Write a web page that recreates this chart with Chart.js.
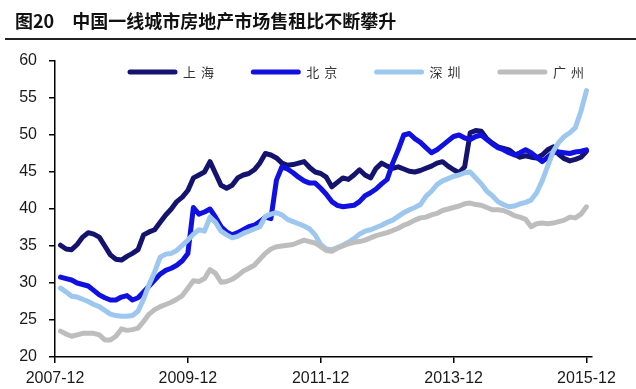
<!DOCTYPE html>
<html>
<head>
<meta charset="utf-8">
<script src="https://cdn.jsdelivr.net/npm/chart.js@4.4.1/dist/chart.umd.min.js"></script>
<style>
  body { margin: 0; background: #fff; }
  #title {
    position: absolute; left: 5px; top: 0; width: 631px; height: 40px;
    border-bottom: 2px solid #222; z-index: 2;
    font-family: "Noto Sans CJK SC", sans-serif; font-weight: bold; font-size: 18px;
    color: #111; line-height: 40px; padding-left: 10px; box-sizing: border-box;
  }
  #title span { margin-right: 18px; }
  #wrap { position: absolute; left: 0; top: 0; width: 636px; height: 389px; }
</style>
</head>
<body>
<div id="title"><span>图20</span>中国一线城市房地产市场售租比不断攀升</div>
<div id="wrap"><canvas id="myChart"></canvas></div>
<script>
// monthly values, 2008-01 .. 2015-12
let cities = ['上海', '北京', '深圳', '广州'];
let xTickLabels = ['2007-12', '2009-12', '2011-12', '2013-12', '2015-12'];
let tickMonths = [0, 24, 48, 72, 96];   // months after 2007-12

let shanghai = [35.1, 34.6, 34.5, 35.2, 36.2, 36.8, 36.6, 36.2, 35.0, 33.8, 33.2, 33.1,
  33.6, 34.0, 34.5, 36.5, 36.9, 37.2, 38.2, 39.2, 40.0, 41.0, 41.6, 42.5,
  44.2, 44.6, 45.0, 46.4, 44.8, 43.2, 42.8, 43.2, 44.2, 44.6, 44.8, 45.3,
  46.2, 47.5, 47.3, 46.9, 46.2, 45.9, 46.0, 46.2, 46.4, 45.6, 45.0, 44.8,
  44.3, 43.0, 43.6, 44.2, 44.0, 44.6, 45.3, 44.6, 44.2, 45.5, 46.2, 45.8,
  45.5, 45.7, 45.4, 45.1, 45.0, 45.2, 45.5, 45.8, 46.2, 46.4, 45.8, 45.3,
  44.9, 45.7, 50.3, 50.6, 50.5, 49.5, 48.9, 48.4, 48.2, 48.0, 47.4, 47.0,
  47.2, 47.0, 46.9, 47.3, 48.0, 48.4, 47.4, 46.8, 46.5, 46.7, 47.0, 47.8];

let beijing = [30.8, 30.6, 30.4, 30.0, 29.8, 29.6, 29.0, 28.4, 28.0, 27.7, 27.7, 28.1,
  28.3, 27.7, 28.0, 28.8, 29.6, 30.4, 31.2, 31.7, 32.0, 32.4, 33.0, 34.0,
  40.2, 39.3, 39.6, 40.0, 38.9, 37.6, 36.9, 36.5, 36.8, 37.2, 37.6, 37.8,
  38.3, 38.9, 38.7, 43.9, 45.7, 45.4, 44.9, 44.3, 43.8, 43.5, 43.5, 42.8,
  42.0, 41.0, 40.5, 40.3, 40.4, 40.5, 41.0, 41.8, 42.2, 42.7, 43.4, 44.0,
  46.2, 48.0, 50.0, 50.2, 49.5, 49.0, 48.3, 47.6, 48.0, 48.6, 49.2, 49.8,
  50.0, 49.6, 49.4, 49.8, 50.0, 49.4, 48.8, 48.3, 48.0, 47.6, 47.3, 47.6,
  48.0, 47.6, 47.0, 46.4, 47.0, 47.6, 47.7, 47.6, 47.5, 47.7, 47.8, 48.0];

let shenzhen = [29.3, 28.8, 28.2, 28.1, 27.8, 27.5, 27.1, 26.8, 26.3, 25.8, 25.6, 25.5,
  25.5, 25.6, 26.2, 27.8, 29.8, 31.5, 33.5, 33.9, 34.0, 34.4, 35.1, 35.8,
  36.6, 37.2, 37.0, 38.9, 38.2, 37.0, 36.5, 36.1, 36.3, 36.7, 37.0, 37.3,
  37.6, 39.0, 39.3, 39.5, 39.2, 38.6, 38.3, 38.0, 37.7, 37.3, 36.5, 35.2,
  34.6, 34.5, 34.8, 35.1, 35.5, 36.0, 36.6, 37.0, 37.2, 37.5, 37.8, 38.2,
  38.5, 39.0, 39.5, 39.9, 40.2, 40.6, 41.7, 42.4, 43.3, 43.8, 44.1, 44.4,
  44.6, 44.9, 45.0, 44.2, 43.4, 42.4, 41.8, 41.0, 40.6, 40.3, 40.4, 40.7,
  40.9, 41.2, 42.2, 43.8, 45.8, 47.8, 49.0, 49.8, 50.3, 51.0, 53.2, 56.0];

let guangzhou = [23.5, 23.1, 22.8, 23.0, 23.2, 23.2, 23.2, 23.0, 22.3, 22.3, 22.8, 23.8,
  23.6, 23.7, 23.9, 24.8, 25.8, 26.4, 26.8, 27.1, 27.4, 27.8, 28.3, 29.3,
  30.3, 30.2, 30.6, 31.8, 31.3, 30.1, 30.2, 30.5, 31.0, 31.6, 32.0, 32.4,
  33.2, 34.0, 34.6, 34.9, 35.0, 35.1, 35.2, 35.5, 35.8, 35.6, 35.4, 34.9,
  34.4, 34.3, 34.7, 35.0, 35.3, 35.5, 35.6, 35.8, 36.1, 36.4, 36.6, 36.8,
  37.1, 37.4, 37.8, 38.1, 38.5, 38.8, 38.9, 39.2, 39.4, 39.8, 40.0, 40.2,
  40.4, 40.7, 40.8, 40.6, 40.5, 40.2, 39.9, 39.9, 39.8, 39.5, 39.1, 38.9,
  38.6, 37.6, 38.0, 38.1, 38.0, 38.1, 38.3, 38.5, 38.9, 38.8, 39.3, 40.3];

let seriesValues = [shanghai, beijing, shenzhen, guangzhou];
let colors = ['#14146e', '#1010e0', '#9dc7ee', '#bdbdbd'];

function toPoints(arr) {
  return arr.map((v, i) => ({ x: i + 1, y: v }));
}

const tickFont = { family: '"Liberation Sans", Arial, sans-serif', size: 16 };

// legend sits inside the plot, one row
const inlineLegend = {
  id: 'inlineLegend',
  afterDraw(chart) {
    const ctx = chart.ctx;
    ctx.save();
    chart.data.datasets.forEach((ds, i) => {
      const x0 = 128 + i * 123.3;
      const y = 72;
      ctx.strokeStyle = ds.borderColor;
      ctx.lineWidth = 5;
      ctx.lineCap = 'round';
      ctx.beginPath();
      ctx.moveTo(x0 + 2, y);
      ctx.lineTo(x0 + 47, y);
      ctx.stroke();
      ctx.fillStyle = '#333';
      ctx.font = '13px "Noto Sans CJK SC", sans-serif';
      ctx.textBaseline = 'middle';
      const chars = ds.label.split('');
      chars.forEach((c, k) => ctx.fillText(c, x0 + 55 + k * 18, y));
    });
    ctx.restore();
  }
};

const ctx = document.getElementById('myChart').getContext('2d');
const myChart = new Chart(ctx, {
  type: 'line',
  data: {
    datasets: cities.map((name, i) => ({
      label: name,
      data: toPoints(seriesValues[i]),
      borderColor: colors[i],
      backgroundColor: colors[i],
      borderWidth: 5,
      pointRadius: 0,
      tension: 0,
      borderCapStyle: 'round',
      borderJoinStyle: 'round',
      order: 4 - i
    }))
  },
  options: {
    responsive: true,
    maintainAspectRatio: false,
    animation: false,
    layout: { padding: { top: 61, right: 44, left: 0, bottom: 0 } },
    plugins: { legend: { display: false }, tooltip: { enabled: false } },
    scales: {
      x: {
        type: 'linear',
        min: 0,
        max: 97,
        afterBuildTicks: s => { s.ticks = tickMonths.map(v => ({ value: v })); },
        afterFit: s => { s.height = 32; },
        ticks: {
          callback: v => xTickLabels[tickMonths.indexOf(v)],
          font: tickFont, color: '#1a1a1a', padding: 6,
          maxRotation: 0, autoSkip: false
        },
        grid: { drawOnChartArea: false, tickLength: 6, color: '#000', lineWidth: 1.5 },
        border: { color: '#000', width: 1.5 }
      },
      y: {
        min: 20,
        max: 60,
        afterFit: s => { s.width = 55; },
        ticks: { stepSize: 5, font: tickFont, color: '#1a1a1a', padding: 12 },
        grid: { drawOnChartArea: false, tickLength: 6, color: '#000', lineWidth: 1.5 },
        border: { color: '#000', width: 1.5 }
      }
    }
  },
  plugins: [inlineLegend]
});
</script>
</body>
</html>
